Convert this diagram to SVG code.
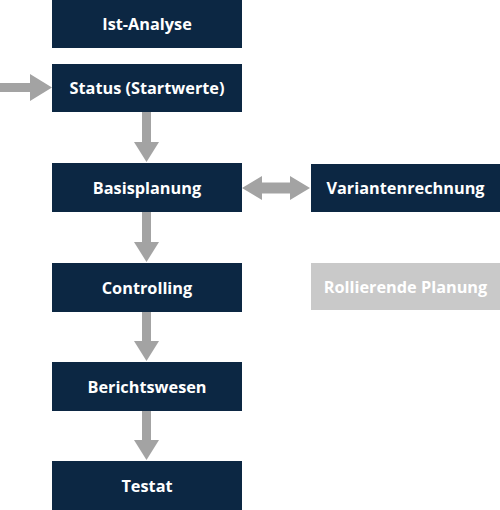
<svg xmlns="http://www.w3.org/2000/svg" width="500" height="510" viewBox="0 0 500 510">
<style>
.box{fill:#0c2743}
.gbox{fill:#c9c9c9}
.t{font-family:"Open Sans","Liberation Sans",sans-serif;font-weight:bold;font-size:16.3px;fill:#ffffff;text-anchor:middle;dominant-baseline:central}
.arr{fill:#a3a3a3}
</style>
<rect width="500" height="510" fill="#ffffff"/>
<g id="connectors">
<polygon class="arr" points="0,83 30,83 30,74 52,87.5 30,101 30,92 0,92"/>
<polygon class="arr" points="142,112 151,112 151,142 159,142 146.5,162 134,142 142,142"/>
<polygon class="arr" points="142,212 151,212 151,242 159,242 146.5,262 134,242 142,242"/>
<polygon class="arr" points="142,312 151,312 151,341 159,341 146.5,361 134,341 142,341"/>
<polygon class="arr" points="142,411 151,411 151,440 159,440 146.5,460 134,440 142,440"/>
<polygon class="arr" points="242,188 262,176 262,182.5 290,182.5 290,176 310,188 290,200 290,193.5 262,193.5 262,200"/>
</g>
<g id="ist"><rect class="box" x="52" y="0" width="190" height="48"/><text class="t" x="147" y="24">Ist-Analyse</text></g>
<g id="status"><rect class="box" x="52" y="64" width="190" height="48"/><text class="t" x="147" y="88">Status (Startwerte)</text></g>
<g id="basis"><rect class="box" x="52" y="163" width="190" height="49"/><text class="t" x="147" y="187.5">Basisplanung</text></g>
<g id="varianten"><rect class="box" x="311" y="164" width="189" height="48"/><text class="t" x="405.5" y="188">Variantenrechnung</text></g>
<g id="controlling"><rect class="box" x="52" y="263" width="190" height="49"/><text class="t" x="147" y="287.5">Controlling</text></g>
<g id="rollierend"><rect class="gbox" x="311" y="263" width="189" height="47"/><text class="t" x="405.5" y="286.5">Rollierende Planung</text></g>
<g id="bericht"><rect class="box" x="52" y="362" width="190" height="49"/><text class="t" x="147" y="386.5">Berichtswesen</text></g>
<g id="testat"><rect class="box" x="52" y="461" width="190" height="49"/><text class="t" x="147" y="485.5">Testat</text></g>
</svg>
